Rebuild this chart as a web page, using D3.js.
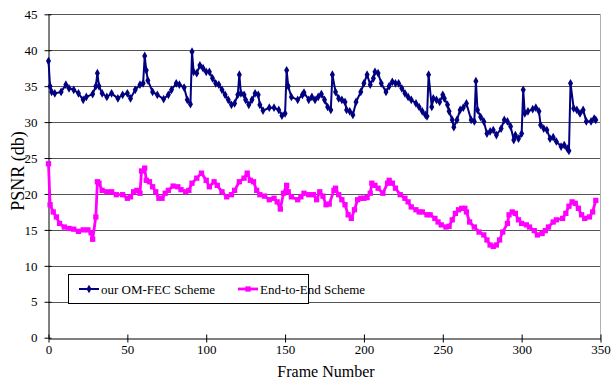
<!DOCTYPE html>
<html>
<head>
<meta charset="utf-8">
<script src="https://cdn.jsdelivr.net/npm/d3@7/dist/d3.min.js"></script>
<style>
  html, body { margin: 0; padding: 0; background: #fff; }
  svg { display: block; }
  text { font-family: "Liberation Serif", "Times New Roman", serif; fill: #000; }
</style>
</head>
<body>
<svg id="chart" width="612" height="382"></svg>
<script>
// ---- data ----
const xTicks = [0, 50, 100, 150, 200, 250, 300, 350];
const yTicks = [0, 5, 10, 15, 20, 25, 30, 35, 40, 45];
const seriesNames = ["our OM-FEC Scheme", "End-to-End Scheme"];

const omFrames = [0,1,2,4,8,11,13,16,19,22,24,28,30,31,32,34,37,40,44,47,50,52,55,58,60,61,62,63,66,69,73,76,78,81,83,86,88,90,91,92,94,96,98,100,102,104,106,108,110,112,114,116,118,120,121,122,124,125,127,129,131,133,134,136,140,143,146,148,150,151,152,154,158,161,162,165,167,169,171,173,175,177,179,180,182,184,186,188,189,191,193,195,198,200,202,204,206,207,209,211,214,216,218,220,222,224,226,228,230,233,235,237,239,240,241,243,244,246,248,250,251,253,254,256,257,259,261,263,265,268,270,271,272,274,276,278,280,282,284,287,289,291,293,295,296,298,300,301,302,304,307,309,311,312,314,316,318,320,322,325,327,329,330,331,333,335,337,339,341,344,346,347];
const omPSNR = [38.5,35.0,34.2,34.0,34.2,35.2,34.7,34.5,34.0,33.1,33.5,33.9,35.0,36.8,35.0,34.0,33.5,34.0,33.3,33.8,34.0,33.3,34.5,35.2,35.4,39.2,37.2,35.8,34.2,33.8,33.2,33.8,34.5,35.4,35.2,34.8,33.1,32.5,39.8,37.0,36.8,37.9,37.5,37.0,37.0,36.1,35.4,35.2,34.5,33.8,33.1,32.4,32.6,33.8,36.6,34.0,33.8,33.1,32.4,33.1,34.0,33.8,32.4,31.6,32.0,32.0,31.7,30.9,31.2,37.2,35.0,33.5,33.1,33.8,34.1,33.1,33.5,33.1,33.5,33.9,33.1,32.1,31.7,36.6,34.2,33.3,33.1,32.8,31.7,31.5,31.0,32.8,34.2,35.4,36.6,35.2,36.1,37.0,36.8,35.4,34.2,35.0,35.6,35.4,35.4,34.7,34.0,33.5,33.1,32.6,32.1,31.5,31.0,30.8,36.6,32.1,33.3,33.1,32.8,33.8,33.3,32.4,31.5,30.3,29.3,30.3,31.7,32.0,32.6,30.3,30.1,35.7,31.7,30.7,30.1,28.4,28.7,28.9,28.2,29.1,30.3,30.1,29.4,27.5,28.2,27.7,28.4,34.5,31.2,31.5,31.8,32.0,31.5,29.6,29.1,28.9,27.7,27.9,27.3,26.6,26.8,26.3,26.0,35.4,31.9,31.7,31.2,31.7,30.1,30.1,30.5,30.3];

const e2eFrames = [0,1,3,5,7,10,13,16,19,22,25,27,28,30,31,32,34,37,40,43,47,50,52,54,56,58,59,61,62,64,66,68,70,72,74,76,79,82,84,87,89,91,94,97,100,102,105,107,110,113,116,118,121,124,126,128,130,132,134,137,140,143,145,147,149,151,152,154,158,160,162,165,168,170,172,174,176,178,181,182,184,186,188,190,192,194,196,198,200,202,204,205,207,209,212,215,216,218,220,223,226,228,230,233,235,237,240,242,245,247,249,252,254,256,258,260,262,264,265,267,270,273,276,278,280,282,284,286,288,291,292,294,296,298,300,303,305,308,310,313,315,317,320,322,326,328,330,332,334,336,338,340,343,345,347];
const e2ePSNR = [24.2,18.5,17.5,16.8,15.9,15.4,15.2,15.1,14.8,15.0,15.0,14.6,13.7,16.8,21.7,21.5,20.5,20.3,20.3,19.9,19.9,19.4,19.6,20.3,20.5,20.1,23.2,23.6,21.9,21.7,21.0,20.3,19.4,19.4,20.1,20.5,21.1,21.0,20.6,20.3,20.5,21.5,22.2,22.9,21.9,21.0,21.7,21.2,20.3,19.6,19.9,20.5,21.7,22.2,22.9,21.9,21.7,20.5,19.9,19.7,19.2,19.4,18.9,17.9,20.1,21.2,20.3,19.6,19.2,19.6,20.1,19.9,19.9,19.2,20.3,19.7,18.5,18.6,20.5,20.8,19.9,19.2,18.5,17.1,16.6,17.8,19.2,19.4,19.4,19.5,20.1,21.5,21.2,20.8,20.1,21.5,21.9,21.5,20.8,19.9,19.4,18.9,18.2,17.8,17.5,17.5,17.1,17.1,16.6,16.1,15.7,15.4,15.5,16.4,17.3,17.8,18.0,18.0,17.5,16.1,15.4,14.7,14.3,13.6,12.9,12.7,12.9,13.6,14.7,15.9,17.1,17.5,17.3,16.4,15.9,15.7,15.4,14.9,14.3,14.5,14.9,15.4,16.1,16.4,16.6,17.3,18.3,18.9,18.7,18.0,17.1,16.6,16.8,17.5,19.1];

// ---- layout ----
const svg = d3.select("#chart");
const pL = 48.5, pR = 600.5, pT = 14.3, pB = 337.7;
const x = d3.scaleLinear().domain([0, 350]).range([pL, pR]);
const y = d3.scaleLinear().domain([0, 45]).range([pB, pT]);

// gridlines
svg.append("g").selectAll("line").data(yTicks.filter(d => d > 0)).join("line")
  .attr("x1", pL).attr("x2", pR)
  .attr("y1", d => Math.round(y(d)) + 0.5).attr("y2", d => Math.round(y(d)) + 0.5)
  .attr("stroke", "#555").attr("stroke-width", 1);

// right plot border
svg.append("line").attr("x1", pR).attr("x2", pR)
  .attr("y1", Math.round(y(45)) + 0.5).attr("y2", Math.round(y(0)) + 0.5)
  .attr("stroke", "#b0b0b0").attr("stroke-width", 1);

// axes
const xAxis = d3.axisBottom(x).tickValues(xTicks).tickSizeInner(4).tickSizeOuter(0).tickPadding(4);
const gx = svg.append("g").attr("transform", `translate(0,${Math.round(y(0)) + 0.5})`).call(xAxis);
gx.attr("font-family", null);
gx.selectAll(".tick line").attr("y1", -4).attr("y2", 4);
gx.selectAll("text").attr("font-size", 13).attr("dy", "0.55em");
gx.select(".domain").attr("stroke", "#000");

const yAxis = d3.axisLeft(y).tickValues(yTicks).tickSizeInner(4).tickSizeOuter(0).tickPadding(7);
const gy = svg.append("g").attr("transform", `translate(${pL},0)`).call(yAxis);
gy.attr("font-family", null);
gy.selectAll(".tick line").attr("x1", -4).attr("x2", 3);
gy.selectAll("text").attr("font-size", 13);
gy.select(".domain").attr("stroke", "#000");

// axis titles
svg.append("text").attr("x", 326).attr("y", 377).attr("text-anchor", "middle")
  .attr("font-size", 16).text("Frame Number");
svg.append("text").attr("transform", "translate(24,171) rotate(-90)").attr("text-anchor", "middle")
  .attr("font-size", 18).text("PSNR (db)");

// series
const n1 = Math.min(omFrames.length, omPSNR.length);
const n2 = Math.min(e2eFrames.length, e2ePSNR.length);
const omData = omFrames.slice(0, n1).map((f, i) => ({ f, v: omPSNR[i] }));
const e2eData = e2eFrames.slice(0, n2).map((f, i) => ({ f, v: e2ePSNR[i] }));
const line = d3.line().x(d => x(d.f)).y(d => y(d.v));

const blue = "#000080", pink = "#FF00FF";
const diamond = d3.symbol().type(d3.symbolDiamond).size(22);
const square = d3.symbol().type(d3.symbolSquare).size(28);

svg.append("path").datum(e2eData).attr("d", line)
  .attr("fill", "none").attr("stroke", pink).attr("stroke-width", 2.8).attr("stroke-linejoin", "round");
svg.append("g").selectAll("path").data(e2eData).join("path")
  .attr("d", square).attr("transform", d => `translate(${x(d.f)},${y(d.v)})`).attr("fill", pink);

svg.append("path").datum(omData).attr("d", line)
  .attr("fill", "none").attr("stroke", blue).attr("stroke-width", 2).attr("stroke-linejoin", "round");
svg.append("g").selectAll("path").data(omData).join("path")
  .attr("d", diamond).attr("transform", d => `translate(${x(d.f)},${y(d.v)})`).attr("fill", blue);

// legend
const lg = svg.append("g");
lg.append("rect").attr("x", 68.5).attr("y", 274.5).attr("width", 240).attr("height", 29)
  .attr("fill", "#fff").attr("stroke", "#000").attr("stroke-width", 1);
const items = [
  { name: seriesNames[0], color: blue, sym: diamond, w: 2, x0: 79, tx: 101 },
  { name: seriesNames[1], color: pink, sym: square, w: 2.8, x0: 238, tx: 260 }
];
items.forEach(it => {
  lg.append("line").attr("x1", it.x0).attr("x2", it.x0 + 20).attr("y1", 289).attr("y2", 289)
    .attr("stroke", it.color).attr("stroke-width", it.w);
  lg.append("path").attr("d", it.sym).attr("transform", `translate(${it.x0 + 10},289)`).attr("fill", it.color);
  lg.append("text").attr("x", it.tx).attr("y", 293.5).attr("font-size", 13).text(it.name);
});
</script>
</body>
</html>
